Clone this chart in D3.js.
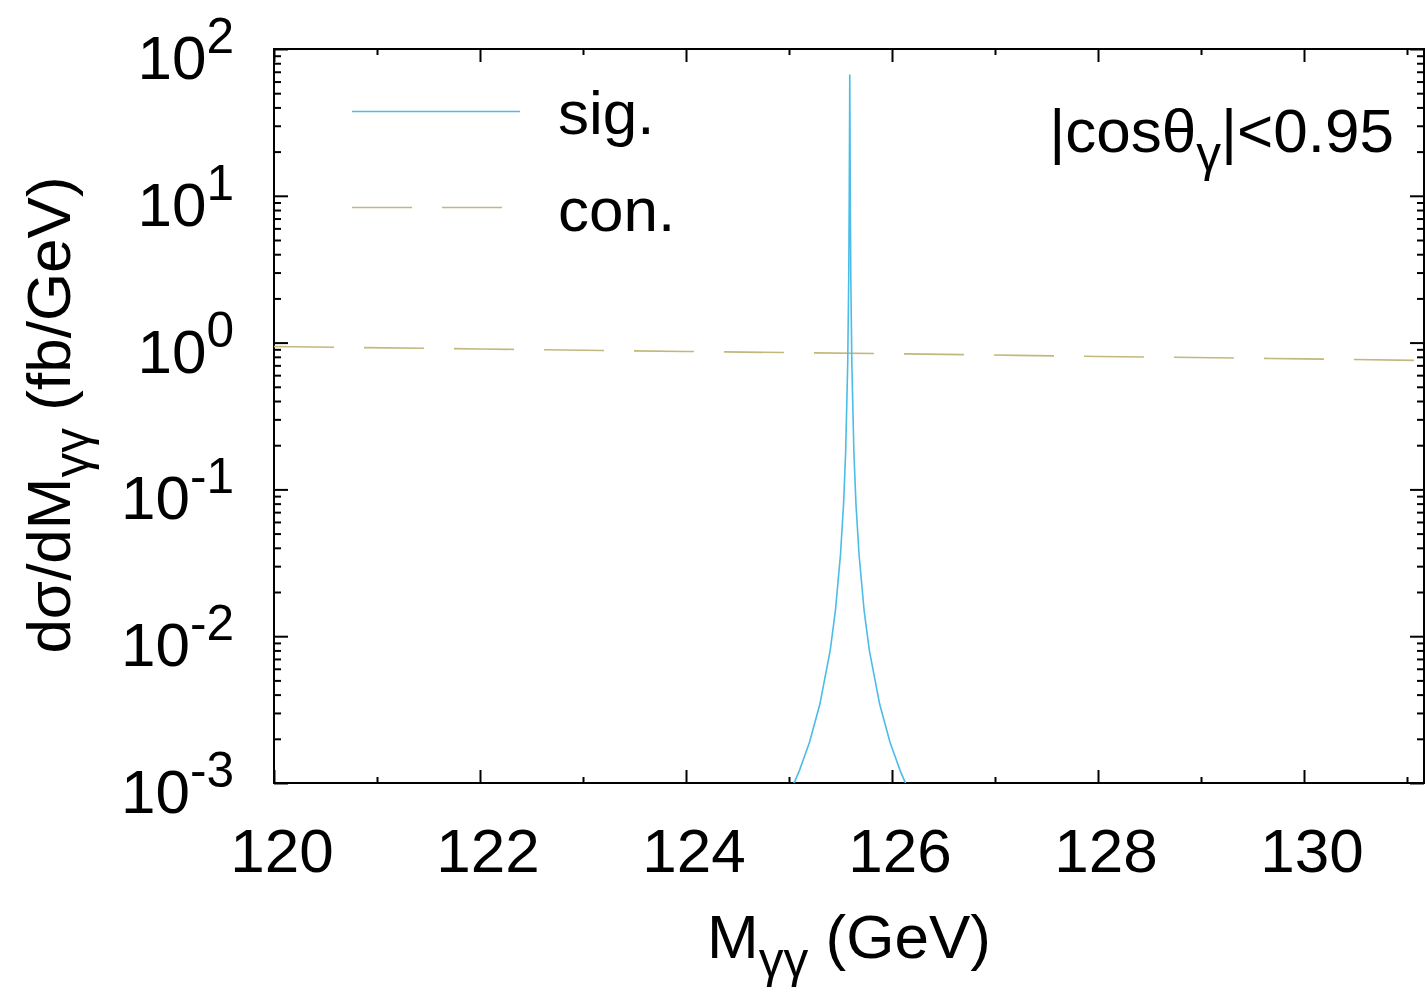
<!DOCTYPE html>
<html>
<head>
<meta charset="utf-8">
<script src="https://cdn.jsdelivr.net/npm/d3@7"></script>
<style>
  body { margin: 0; background: #fff; }
  svg { display: block; font-family: "Liberation Sans", Arial, Helvetica, sans-serif; }
</style>
</head>
<body>
<div id="chart"></div>
<script>
// Data.
// Signal line shape (M in GeV, dsigma/dM in fb/GeV).
const sigMass = [125.00, 125.10, 125.20, 125.30, 125.40, 125.45, 125.50, 125.53, 125.55,
    125.57, 125.58, 125.585, 125.59, 125.595, 125.60, 125.61, 125.63, 125.65, 125.68,
    125.73, 125.78, 125.88, 125.98, 126.08, 126.18];
const sigValue = [8.3e-4, 1.21e-3, 1.9e-3, 3.45e-3, 8.0e-3, 0.0148, 0.036, 0.080, 0.18,
    0.72, 2.8, 9.9, 67, 9.9, 2.8, 0.72, 0.18, 0.080, 0.036,
    0.0148, 8.0e-3, 3.45e-3, 1.9e-3, 1.21e-3, 8.3e-4];
// Continuum background.
const conMass = [120, 122, 124, 126, 128, 130, 131.2];
const conValue = [0.94, 0.905, 0.87, 0.84, 0.805, 0.775, 0.755];

const xMajor = [120, 122, 124, 126, 128, 130];
const xMinor = [121, 123, 125, 127, 129, 131];
const yExponents = [2, 1, 0, -1, -2, -3];

const width = 1426, height = 988;
const plotLeft = 274, plotRight = 1424, plotTop = 49, plotBottom = 783;
const fontSize = 62;

const svg = d3.select('#chart').append('svg')
    .attr('width', width)
    .attr('height', height);

// Scales.
const x = d3.scaleLinear()
    .domain([120, 120 + (plotRight - plotLeft) / 103])
    .range([plotLeft, plotRight]);
const y = d3.scaleLog()
    .domain([1e-3, 1e2])
    .range([plotBottom, plotTop]);

// Minor ticks on the log axis: 2..9 in each decade.
const yMinor = [];
for (let e = -3; e < 2; e++) {
    for (let k = 2; k <= 9; k++) yMinor.push(k * Math.pow(10, e));
}
const yMajor = yExponents.map(function (e) { return Math.pow(10, e); });

// Clip area for the curves.
svg.append('clipPath').attr('id', 'plotClip')
    .append('rect')
    .attr('x', plotLeft).attr('y', plotTop)
    .attr('width', plotRight - plotLeft)
    .attr('height', plotBottom - plotTop);

// Axes with inward ticks on all four sides.
function drawAxis(axis, transform, values, size) {
    const g = svg.append('g')
        .attr('transform', transform)
        .call(axis.tickValues(values).tickSize(-size).tickSizeOuter(0).tickFormat(''));
    g.select('.domain').remove();
    g.selectAll('line').attr('stroke', '#000').attr('stroke-width', 2);
    return g;
}
drawAxis(d3.axisBottom(x), 'translate(0,' + plotBottom + ')', xMajor, 13);
drawAxis(d3.axisBottom(x), 'translate(0,' + plotBottom + ')', xMinor, 6);
drawAxis(d3.axisTop(x), 'translate(0,' + plotTop + ')', xMajor, 13);
drawAxis(d3.axisTop(x), 'translate(0,' + plotTop + ')', xMinor, 6);
drawAxis(d3.axisLeft(y), 'translate(' + plotLeft + ',0)', yMajor, 14);
drawAxis(d3.axisLeft(y), 'translate(' + plotLeft + ',0)', yMinor, 7);
drawAxis(d3.axisRight(y), 'translate(' + plotRight + ',0)', yMajor, 14);
drawAxis(d3.axisRight(y), 'translate(' + plotRight + ',0)', yMinor, 7);

// Frame.
svg.append('rect')
    .attr('x', plotLeft).attr('y', plotTop)
    .attr('width', plotRight - plotLeft)
    .attr('height', plotBottom - plotTop)
    .attr('fill', 'none')
    .attr('stroke', '#000')
    .attr('stroke-width', 2);

// X tick labels.
svg.append('g').selectAll('text')
    .data(xMajor)
    .enter()
    .append('text')
    .attr('x', function (d) { return x(d) + 8; })
    .attr('y', 872)
    .attr('text-anchor', 'middle')
    .attr('font-size', fontSize)
    .text(function (d) { return d; });

// Y tick labels as 10^n.
const yLabels = svg.append('g').selectAll('text')
    .data(yExponents)
    .enter()
    .append('text')
    .attr('x', 234)
    .attr('y', function (d) { return y(Math.pow(10, d)) + 30; })
    .attr('text-anchor', 'end')
    .attr('font-size', fontSize);
yLabels.append('tspan').text('10');
yLabels.append('tspan')
    .attr('dy', -26)
    .attr('font-size', fontSize * 0.8)
    .text(function (d) { return d; });

// Curves.
const line = d3.line()
    .x(function (d) { return x(d[0]); })
    .y(function (d) { return y(d[1]); });
const curves = svg.append('g').attr('clip-path', 'url(#plotClip)');
curves.append('path')
    .datum(conMass.map(function (m, i) { return [m, conValue[i]]; }))
    .attr('d', line)
    .attr('fill', 'none')
    .attr('stroke', '#c2b87c')
    .attr('stroke-width', 1.6)
    .attr('stroke-dasharray', '60,30');
curves.append('path')
    .datum(sigMass.map(function (m, i) { return [m, sigValue[i]]; }))
    .attr('d', line)
    .attr('fill', 'none')
    .attr('stroke', '#4bbde8')
    .attr('stroke-width', 1.6);

// Legend.
const legend = svg.append('g');
legend.append('line')
    .attr('x1', 352).attr('x2', 520).attr('y1', 111.5).attr('y2', 111.5)
    .attr('stroke', '#4bbde8').attr('stroke-width', 1.6);
legend.append('line')
    .attr('x1', 352).attr('x2', 502).attr('y1', 207.5).attr('y2', 207.5)
    .attr('stroke', '#c2b87c').attr('stroke-width', 1.6)
    .attr('stroke-dasharray', '60,30');
legend.append('text')
    .attr('x', 558).attr('y', 134)
    .attr('font-size', fontSize)
    .text('sig.');
legend.append('text')
    .attr('x', 558).attr('y', 231)
    .attr('font-size', fontSize)
    .text('con.');

// Cut annotation.
const note = svg.append('text')
    .attr('x', 1394).attr('y', 152)
    .attr('text-anchor', 'end')
    .attr('font-size', fontSize);
note.append('tspan').text('|cosθ');
note.append('tspan').attr('dy', 19).attr('font-size', fontSize * 0.8).text('γ');
note.append('tspan').attr('dy', -19).text('|<0.95');

// Axis titles.
const xTitle = svg.append('text')
    .attr('x', 849).attr('y', 958)
    .attr('text-anchor', 'middle')
    .attr('font-size', fontSize);
xTitle.append('tspan').text('M');
xTitle.append('tspan').attr('dy', 19).attr('font-size', fontSize * 0.8).text('γγ');
xTitle.append('tspan').attr('dy', -19).text(' (GeV)');

const yTitle = svg.append('text')
    .attr('transform', 'translate(70,415) rotate(-90)')
    .attr('text-anchor', 'middle')
    .attr('font-size', fontSize);
yTitle.append('tspan').text('dσ/dM');
yTitle.append('tspan').attr('dy', 19).attr('font-size', fontSize * 0.8).text('γγ');
yTitle.append('tspan').attr('dy', -19).text(' (fb/GeV)');
</script>
</body>
</html>
